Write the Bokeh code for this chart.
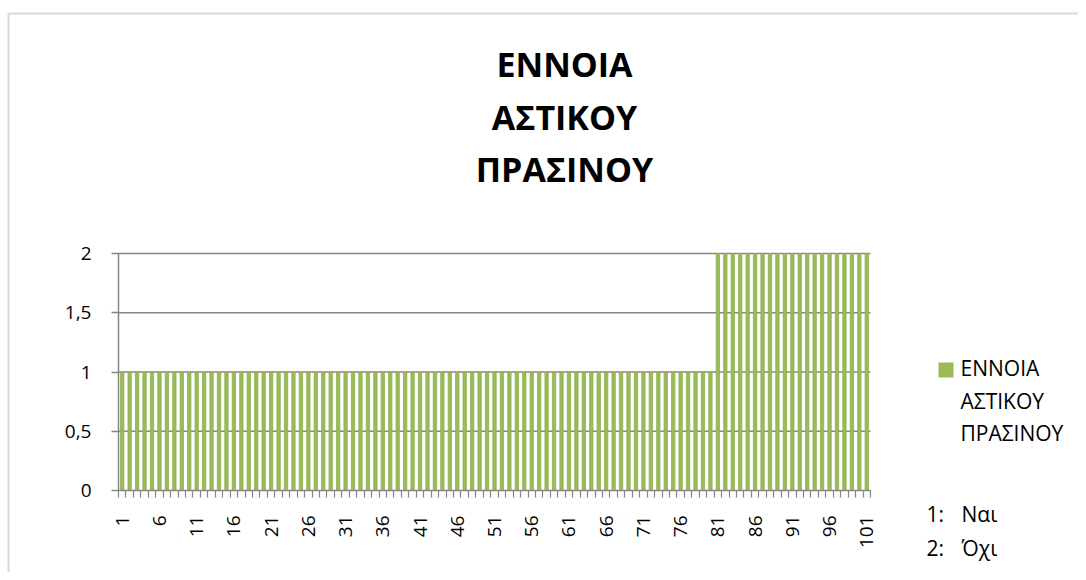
import math
from bokeh.plotting import figure
from bokeh.models import (ColumnDataSource, FixedTicker, CustomJSTickFormatter,
                          Label, BoxAnnotation, Range1d)
from bokeh.embed import file_html
from bokeh.resources import INLINE

# ---- data ----
categories = list(range(1, 102))
values = [1] * 80 + [2] * 21
x_tick_labels = list(range(1, 102, 5))
y_ticks = [0, 0.5, 1, 1.5, 2]
title_lines = ["ΕΝΝΟΙΑ", "ΑΣΤΙΚΟΥ", "ΠΡΑΣΙΝΟΥ"]
legend_lines = ["ΕΝΝΟΙΑ", "ΑΣΤΙΚΟΥ", "ΠΡΑΣΙΝΟΥ"]
note_keys = ["1:", "2:"]
note_vals = ["Ναι", "Όχι"]

FONT = "Open Sans"
GREEN = "#9BBB59"
GRAY = "#868686"

# ---- layout (pixels in the canvas) ----
W, H = 1078, 572
PL, PR, PT, PB = 118, 870, 253, 490   # plot area edges

x0, x1 = categories[0] - 0.5, categories[-1] + 0.5
y0, y1 = y_ticks[0], y_ticks[-1]
kx = (x1 - x0) / (PR - PL)
ky = (y1 - y0) / (PB - PT)
x_range = Range1d(x0 - PL * kx, x1 + (W - PR) * kx)
y_range = Range1d(y0 - (H - PB) * ky, y1 + PT * ky)

src = ColumnDataSource(data=dict(x=categories, top=values))

p = figure(width=W, height=H, output_backend="svg", toolbar_location=None,
           title_location=None, x_range=x_range, y_range=y_range)
p.min_border = 0
p.min_border_left = 0
p.min_border_right = 0
p.min_border_top = 0
p.min_border_bottom = 0
p.outline_line_color = None
p.background_fill_color = "white"
p.border_fill_color = "white"
p.xgrid.visible = False
p.ygrid.visible = False

# gridlines (horizontal) over the plot area only
p.segment(x0=[x0] * (len(y_ticks) - 1), x1=[x1] * (len(y_ticks) - 1),
          y0=y_ticks[1:], y1=y_ticks[1:], line_color=GRAY, line_width=1.5,
          level="underlay")

p.vbar(x="x", top="top", bottom=0, width=0.45, source=src,
       fill_color=GREEN, line_color="#8DB04E", line_width=0.8)

# y axis
ya = p.yaxis[0]
ya.fixed_location = x0
ya.bounds = (y0, y1)
ya.ticker = FixedTicker(ticks=y_ticks)
ya.formatter = CustomJSTickFormatter(code="return String(tick).replace('.', ',');")
ya.axis_line_color = GRAY
ya.axis_line_width = 1.5
ya.major_tick_line_color = GRAY
ya.major_tick_line_width = 1.5
ya.major_tick_out = 7
ya.major_tick_in = 0
ya.minor_tick_line_color = None
ya.major_label_text_font = FONT
ya.major_label_text_font_size = "19px"
ya.major_label_text_color = "black"
ya.major_label_standoff = 20

# x axis
xa = p.xaxis[0]
xa.fixed_location = y0
xa.bounds = (x0, x1)
xa.ticker = FixedTicker(ticks=x_tick_labels,
                        minor_ticks=[c - 0.5 for c in categories] + [x1])
xa.axis_line_color = GRAY
xa.axis_line_width = 1.5
xa.major_tick_line_color = None
xa.major_tick_out = 7
xa.major_tick_in = 0
xa.minor_tick_line_color = GRAY
xa.minor_tick_line_width = 1.2
xa.minor_tick_out = 7
xa.minor_tick_in = 0
xa.major_label_orientation = math.pi / 2
xa.major_label_text_font = FONT
xa.major_label_text_font_size = "19px"
xa.major_label_text_color = "black"
xa.major_label_standoff = 18

# outer chart border (right and bottom edges fall outside the picture)
p.add_layout(BoxAnnotation(left=8, right=W + 50, top=H - 13, bottom=-50,
                           left_units="screen", right_units="screen",
                           top_units="screen", bottom_units="screen",
                           fill_alpha=0, line_color="#7F7F7F", line_width=2))


def base(y_px, fs):
    # baseline in canvas px from top -> screen units from bottom (with text box offset)
    return H - (y_px - 0.45 * fs)


# title
TFS = 34
for i, t in enumerate(title_lines):
    p.add_layout(Label(x=564, y=base(79 + 52.5 * i, TFS), x_units="screen", y_units="screen",
                       text=t, text_align="center", text_baseline="alphabetic",
                       text_font=FONT, text_font_style="bold", text_font_size=f"{TFS}px",
                       text_color="black"))

# legend
LFS = 21
p.add_layout(BoxAnnotation(left=938, right=953, top=H - 362, bottom=H - 377,
                           left_units="screen", right_units="screen",
                           top_units="screen", bottom_units="screen",
                           fill_color=GREEN, fill_alpha=1, line_color=None))
for i, t in enumerate(legend_lines):
    p.add_layout(Label(x=960, y=base(377 + 32.5 * i, LFS), x_units="screen", y_units="screen",
                       text=t, text_align="left", text_baseline="alphabetic",
                       text_font=FONT, text_font_size=f"{LFS}px", text_color="black"))

for i, (k, v) in enumerate(zip(note_keys, note_vals)):
    yy = base(523 + 34 * i, LFS)
    p.add_layout(Label(x=926, y=yy, x_units="screen", y_units="screen",
                       text=k, text_align="left", text_baseline="alphabetic",
                       text_font=FONT, text_font_size=f"{LFS}px", text_color="black"))
    p.add_layout(Label(x=961, y=yy, x_units="screen", y_units="screen",
                       text=v, text_align="left", text_baseline="alphabetic",
                       text_font=FONT, text_font_size=f"{LFS}px", text_color="black"))

open("out.html", "w").write(file_html(p, INLINE))
